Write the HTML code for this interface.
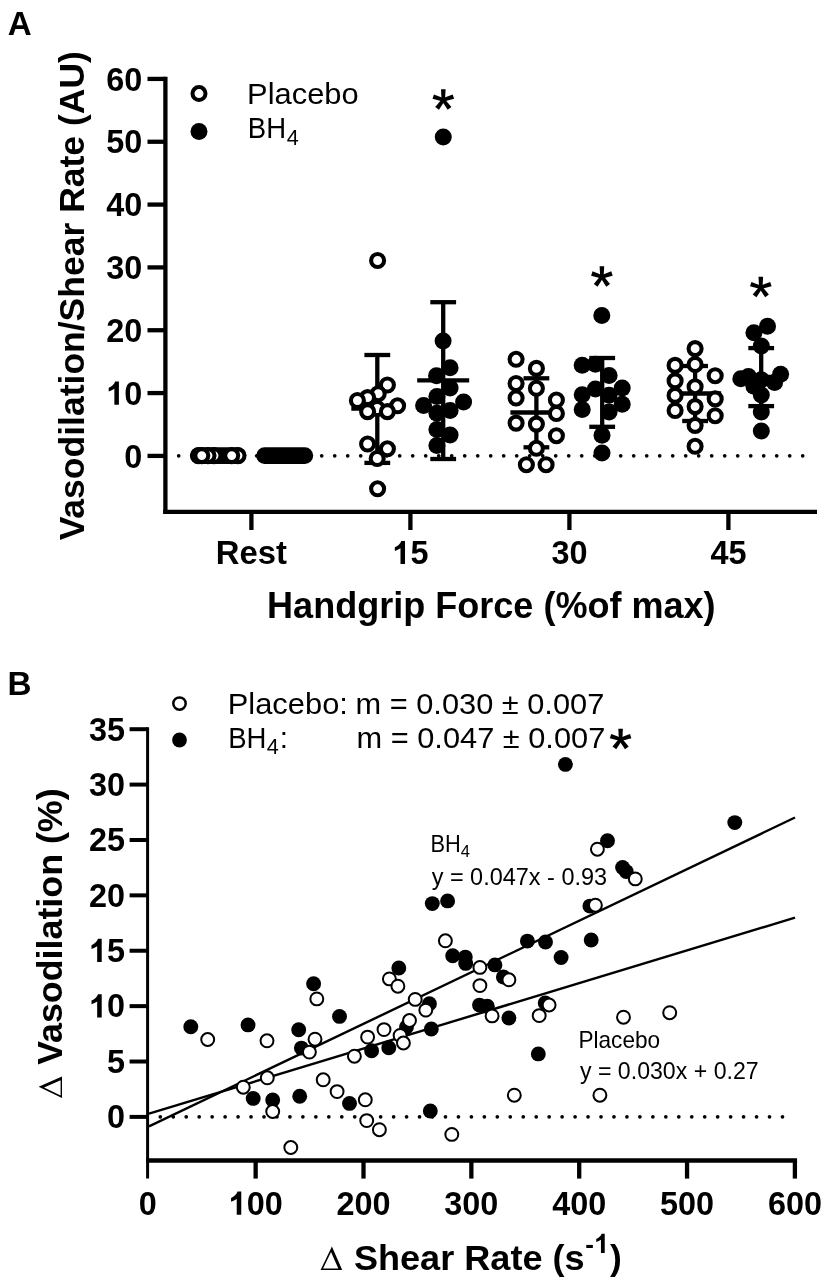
<!DOCTYPE html>
<html><head><meta charset="utf-8"><style>
html,body{margin:0;padding:0;background:#fff;}
svg{display:block;filter:grayscale(1);}
</style></head><body>
<svg width="827" height="1284" viewBox="0 0 827 1284">
<rect width="827" height="1284" fill="#fff"/>
<text transform="matrix(0.98,0,0,1,7.699,35)" font-family="Liberation Sans" font-weight="bold" font-size="33.8">A</text>
<line x1="165.4" y1="76.77" x2="165.4" y2="513.95" stroke="#000" stroke-width="4.3"/>
<line x1="163.25" y1="511.8" x2="817" y2="511.8" stroke="#000" stroke-width="4.3"/>
<line x1="147.5" y1="455.9" x2="165.4" y2="455.9" stroke="#000" stroke-width="4.3"/>
<text transform="matrix(1,0,0,1,124.282,467.5)" font-family="Liberation Sans" font-weight="bold" font-size="32.4">0</text>
<line x1="147.5" y1="393.07" x2="165.4" y2="393.07" stroke="#000" stroke-width="4.3"/>
<path d="M114.37,404.67 L118.90,404.67 L118.90,381.47 L115.21,381.47 C114.21,384.26 111.78,386.36 108.70,387.82 L108.70,391.55 C110.80,390.90 112.75,389.93 114.37,388.79 Z" fill="#000"/>
<text transform="matrix(1,0,0,1,124.282,404.67)" font-family="Liberation Sans" font-weight="bold" font-size="32.4">0</text>
<line x1="147.5" y1="330.24" x2="165.4" y2="330.24" stroke="#000" stroke-width="4.3"/>
<text transform="matrix(1,0,0,1,106.267,341.84)" font-family="Liberation Sans" font-weight="bold" font-size="32.4">2</text>
<text transform="matrix(1,0,0,1,124.282,341.84)" font-family="Liberation Sans" font-weight="bold" font-size="32.4">0</text>
<line x1="147.5" y1="267.41" x2="165.4" y2="267.41" stroke="#000" stroke-width="4.3"/>
<text transform="matrix(1,0,0,1,106.267,279.01)" font-family="Liberation Sans" font-weight="bold" font-size="32.4">3</text>
<text transform="matrix(1,0,0,1,124.282,279.01)" font-family="Liberation Sans" font-weight="bold" font-size="32.4">0</text>
<line x1="147.5" y1="204.58" x2="165.4" y2="204.58" stroke="#000" stroke-width="4.3"/>
<text transform="matrix(1,0,0,1,106.267,216.18)" font-family="Liberation Sans" font-weight="bold" font-size="32.4">4</text>
<text transform="matrix(1,0,0,1,124.282,216.18)" font-family="Liberation Sans" font-weight="bold" font-size="32.4">0</text>
<line x1="147.5" y1="141.75" x2="165.4" y2="141.75" stroke="#000" stroke-width="4.3"/>
<text transform="matrix(1,0,0,1,106.267,153.35)" font-family="Liberation Sans" font-weight="bold" font-size="32.4">5</text>
<text transform="matrix(1,0,0,1,124.282,153.35)" font-family="Liberation Sans" font-weight="bold" font-size="32.4">0</text>
<line x1="147.5" y1="78.92" x2="165.4" y2="78.92" stroke="#000" stroke-width="4.3"/>
<text transform="matrix(1,0,0,1,106.267,90.52)" font-family="Liberation Sans" font-weight="bold" font-size="32.4">6</text>
<text transform="matrix(1,0,0,1,124.282,90.52)" font-family="Liberation Sans" font-weight="bold" font-size="32.4">0</text>
<line x1="251.4" y1="511.8" x2="251.4" y2="530" stroke="#000" stroke-width="4.3"/>
<text transform="matrix(1,0,0,1,251.4,564.1)" font-family="Liberation Sans" font-weight="bold" font-size="32.8" text-anchor="middle">Rest</text>
<line x1="410.4" y1="511.8" x2="410.4" y2="530" stroke="#000" stroke-width="4.3"/>
<path d="M400.49,564.10 L405.02,564.10 L405.02,540.90 L401.33,540.90 C400.32,543.69 397.89,545.79 394.82,547.25 L394.82,550.98 C396.92,550.33 398.87,549.36 400.49,548.22 Z" fill="#000"/>
<text transform="matrix(1,0,0,1,410.4,564.1)" font-family="Liberation Sans" font-weight="bold" font-size="32.4">5</text>
<line x1="569.4" y1="511.8" x2="569.4" y2="530" stroke="#000" stroke-width="4.3"/>
<text transform="matrix(1,0,0,1,551.386,564.1)" font-family="Liberation Sans" font-weight="bold" font-size="32.4">3</text>
<text transform="matrix(1,0,0,1,569.4,564.1)" font-family="Liberation Sans" font-weight="bold" font-size="32.4">0</text>
<line x1="728.4" y1="511.8" x2="728.4" y2="530" stroke="#000" stroke-width="4.3"/>
<text transform="matrix(1,0,0,1,710.386,564.1)" font-family="Liberation Sans" font-weight="bold" font-size="32.4">4</text>
<text transform="matrix(1,0,0,1,728.4,564.1)" font-family="Liberation Sans" font-weight="bold" font-size="32.4">5</text>
<text transform="matrix(0.996,0,0,1,267.075,617.7)" font-family="Liberation Sans" font-weight="bold" font-size="36.2">Handgrip Force (%of max)</text>
<text transform="matrix(0,-1,1,0,84,540.351)" font-family="Liberation Sans" font-weight="bold" font-size="35.5">Vasodilation/Shear Rate (AU)</text>
<g fill="#000"><circle cx="178.70" cy="455.8" r="1.85"/><circle cx="191.70" cy="455.8" r="1.85"/><circle cx="204.70" cy="455.8" r="1.85"/><circle cx="217.70" cy="455.8" r="1.85"/><circle cx="230.70" cy="455.8" r="1.85"/><circle cx="243.70" cy="455.8" r="1.85"/><circle cx="256.70" cy="455.8" r="1.85"/><circle cx="269.70" cy="455.8" r="1.85"/><circle cx="282.70" cy="455.8" r="1.85"/><circle cx="295.70" cy="455.8" r="1.85"/><circle cx="308.70" cy="455.8" r="1.85"/><circle cx="321.70" cy="455.8" r="1.85"/><circle cx="334.70" cy="455.8" r="1.85"/><circle cx="347.70" cy="455.8" r="1.85"/><circle cx="360.70" cy="455.8" r="1.85"/><circle cx="373.70" cy="455.8" r="1.85"/><circle cx="386.70" cy="455.8" r="1.85"/><circle cx="399.70" cy="455.8" r="1.85"/><circle cx="412.70" cy="455.8" r="1.85"/><circle cx="425.70" cy="455.8" r="1.85"/><circle cx="438.70" cy="455.8" r="1.85"/><circle cx="451.70" cy="455.8" r="1.85"/><circle cx="464.70" cy="455.8" r="1.85"/><circle cx="477.70" cy="455.8" r="1.85"/><circle cx="490.70" cy="455.8" r="1.85"/><circle cx="503.70" cy="455.8" r="1.85"/><circle cx="516.70" cy="455.8" r="1.85"/><circle cx="529.70" cy="455.8" r="1.85"/><circle cx="542.70" cy="455.8" r="1.85"/><circle cx="555.70" cy="455.8" r="1.85"/><circle cx="568.70" cy="455.8" r="1.85"/><circle cx="581.70" cy="455.8" r="1.85"/><circle cx="594.70" cy="455.8" r="1.85"/><circle cx="607.70" cy="455.8" r="1.85"/><circle cx="620.70" cy="455.8" r="1.85"/><circle cx="633.70" cy="455.8" r="1.85"/><circle cx="646.70" cy="455.8" r="1.85"/><circle cx="659.70" cy="455.8" r="1.85"/><circle cx="672.70" cy="455.8" r="1.85"/><circle cx="685.70" cy="455.8" r="1.85"/><circle cx="698.70" cy="455.8" r="1.85"/><circle cx="711.70" cy="455.8" r="1.85"/><circle cx="724.70" cy="455.8" r="1.85"/><circle cx="737.70" cy="455.8" r="1.85"/><circle cx="750.70" cy="455.8" r="1.85"/><circle cx="763.70" cy="455.8" r="1.85"/><circle cx="776.70" cy="455.8" r="1.85"/><circle cx="789.70" cy="455.8" r="1.85"/><circle cx="802.70" cy="455.8" r="1.85"/></g>
<circle cx="199" cy="93.6" r="6.5" fill="#fff" stroke="#000" stroke-width="4.0"/>
<circle cx="199" cy="131.4" r="8.5" fill="#000"/>
<text transform="matrix(1.058,0,0,1,247.082,103.7)" font-family="Liberation Sans" font-weight="normal" font-size="29.2">Placebo</text>
<text transform="matrix(0.93,0,0,1,247.867,137.8)" font-family="Liberation Sans" font-weight="normal" font-size="29.6">BH</text>
<text transform="matrix(0.96,0,0,1,286.698,144.9)" font-family="Liberation Sans" font-weight="normal" font-size="22.5">4</text>
<g fill="#000"><polygon points="445.00,99.90 445.60,89.30 441.00,89.30 441.60,99.90"/><polygon points="443.83,101.52 454.09,98.81 452.67,94.44 442.77,98.28"/><polygon points="441.92,100.90 447.67,109.83 451.39,107.12 444.68,98.90"/><polygon points="441.92,98.90 435.21,107.12 438.93,109.83 444.68,100.90"/><polygon points="443.83,98.28 433.93,94.44 432.51,98.81 442.77,101.52"/><circle cx="443.3" cy="99.9" r="2.0"/></g>
<g fill="#000"><polygon points="603.60,276.80 604.20,266.20 599.60,266.20 600.20,276.80"/><polygon points="602.43,278.42 612.69,275.71 611.27,271.34 601.37,275.18"/><polygon points="600.52,277.80 606.27,286.73 609.99,284.02 603.28,275.80"/><polygon points="600.52,275.80 593.81,284.02 597.53,286.73 603.28,277.80"/><polygon points="602.43,275.18 592.53,271.34 591.11,275.71 601.37,278.42"/><circle cx="601.9" cy="276.8" r="2.0"/></g>
<g fill="#000"><polygon points="762.50,287.40 763.10,276.80 758.50,276.80 759.10,287.40"/><polygon points="761.33,289.02 771.59,286.31 770.17,281.94 760.27,285.78"/><polygon points="759.42,288.40 765.17,297.33 768.89,294.62 762.18,286.40"/><polygon points="759.42,286.40 752.71,294.62 756.43,297.33 762.18,288.40"/><polygon points="761.33,285.78 751.43,281.94 750.01,286.31 760.27,289.02"/><circle cx="760.8" cy="287.4" r="2.0"/></g>
<line x1="218.5" y1="455.6" x2="218.5" y2="455.6" stroke="#000" stroke-width="4.3"/>
<line x1="205.6" y1="455.6" x2="231.4" y2="455.6" stroke="#000" stroke-width="4.3"/>
<line x1="205.6" y1="455.6" x2="231.4" y2="455.6" stroke="#000" stroke-width="4.3"/>
<line x1="192.5" y1="455.6" x2="244.5" y2="455.6" stroke="#000" stroke-width="4.3"/>
<line x1="284.4" y1="455.6" x2="284.4" y2="455.6" stroke="#000" stroke-width="4.3"/>
<line x1="271.5" y1="455.6" x2="297.3" y2="455.6" stroke="#000" stroke-width="4.3"/>
<line x1="271.5" y1="455.6" x2="297.3" y2="455.6" stroke="#000" stroke-width="4.3"/>
<line x1="258.4" y1="455.6" x2="310.4" y2="455.6" stroke="#000" stroke-width="4.3"/>
<rect x="190.2" y="447.2" width="56" height="16.8" rx="8.4" fill="#000"/>
<circle cx="238" cy="455.6" r="6.5" fill="#fff" stroke="#000" stroke-width="4.1"/>
<circle cx="231.7" cy="455.6" r="6.5" fill="#fff" stroke="#000" stroke-width="4.1"/>
<circle cx="214" cy="455.6" r="6.5" fill="#fff" stroke="#000" stroke-width="4.1"/>
<circle cx="208" cy="455.6" r="6.5" fill="#fff" stroke="#000" stroke-width="4.1"/>
<circle cx="198.5" cy="455.6" r="6.5" fill="#fff" stroke="#000" stroke-width="4.1"/>
<circle cx="201.8" cy="455.6" r="6.5" fill="#fff" stroke="#000" stroke-width="4.1"/>
<rect x="256.2" y="447.2" width="57" height="16.8" rx="8.4" fill="#000"/>
<line x1="377.3" y1="355" x2="377.3" y2="462.9" stroke="#000" stroke-width="4.3"/>
<line x1="364.4" y1="355" x2="390.2" y2="355" stroke="#000" stroke-width="4.3"/>
<line x1="364.4" y1="462.9" x2="390.2" y2="462.9" stroke="#000" stroke-width="4.3"/>
<line x1="351.3" y1="408.6" x2="403.3" y2="408.6" stroke="#000" stroke-width="4.3"/>
<circle cx="377.6" cy="260.5" r="6.5" fill="#fff" stroke="#000" stroke-width="4.1"/>
<circle cx="377.2" cy="408.5" r="6.5" fill="#fff" stroke="#000" stroke-width="4.1"/>
<circle cx="387.4" cy="385" r="6.5" fill="#fff" stroke="#000" stroke-width="4.1"/>
<circle cx="378.2" cy="393.7" r="6.5" fill="#fff" stroke="#000" stroke-width="4.1"/>
<circle cx="367.6" cy="397.6" r="6.5" fill="#fff" stroke="#000" stroke-width="4.1"/>
<circle cx="357.4" cy="400.5" r="6.5" fill="#fff" stroke="#000" stroke-width="4.1"/>
<circle cx="397.6" cy="405.8" r="6.5" fill="#fff" stroke="#000" stroke-width="4.1"/>
<circle cx="367.6" cy="411.6" r="6.5" fill="#fff" stroke="#000" stroke-width="4.1"/>
<circle cx="387.4" cy="411.6" r="6.5" fill="#fff" stroke="#000" stroke-width="4.1"/>
<circle cx="367.6" cy="444" r="6.5" fill="#fff" stroke="#000" stroke-width="4.1"/>
<circle cx="387.4" cy="448.8" r="6.5" fill="#fff" stroke="#000" stroke-width="4.1"/>
<circle cx="377.2" cy="458.5" r="6.5" fill="#fff" stroke="#000" stroke-width="4.1"/>
<circle cx="377.6" cy="488.8" r="6.5" fill="#fff" stroke="#000" stroke-width="4.1"/>
<line x1="443.2" y1="302.2" x2="443.2" y2="459" stroke="#000" stroke-width="4.3"/>
<line x1="430.3" y1="302.2" x2="456.1" y2="302.2" stroke="#000" stroke-width="4.3"/>
<line x1="430.3" y1="459" x2="456.1" y2="459" stroke="#000" stroke-width="4.3"/>
<line x1="417.2" y1="380.3" x2="469.2" y2="380.3" stroke="#000" stroke-width="4.3"/>
<circle cx="443.25" cy="136.9" r="8.5" fill="#000"/>
<circle cx="443.1" cy="341.1" r="8.5" fill="#000"/>
<circle cx="450.1" cy="367.7" r="8.5" fill="#000"/>
<circle cx="436.5" cy="375.7" r="8.5" fill="#000"/>
<circle cx="450.1" cy="388" r="8.5" fill="#000"/>
<circle cx="436.9" cy="396.5" r="8.5" fill="#000"/>
<circle cx="423.6" cy="405.6" r="8.5" fill="#000"/>
<circle cx="463.6" cy="402.1" r="8.5" fill="#000"/>
<circle cx="450.1" cy="410.5" r="8.5" fill="#000"/>
<circle cx="436.9" cy="413.3" r="8.5" fill="#000"/>
<circle cx="436.9" cy="429.4" r="8.5" fill="#000"/>
<circle cx="450.1" cy="435" r="8.5" fill="#000"/>
<circle cx="436.9" cy="445.5" r="8.5" fill="#000"/>
<line x1="536.4" y1="378.3" x2="536.4" y2="447.3" stroke="#000" stroke-width="4.3"/>
<line x1="523.5" y1="378.3" x2="549.3" y2="378.3" stroke="#000" stroke-width="4.3"/>
<line x1="523.5" y1="447.3" x2="549.3" y2="447.3" stroke="#000" stroke-width="4.3"/>
<line x1="510.4" y1="412.5" x2="562.4" y2="412.5" stroke="#000" stroke-width="4.3"/>
<circle cx="516.1" cy="359.3" r="6.5" fill="#fff" stroke="#000" stroke-width="4.1"/>
<circle cx="536.4" cy="368.4" r="6.5" fill="#fff" stroke="#000" stroke-width="4.1"/>
<circle cx="516.1" cy="383.5" r="6.5" fill="#fff" stroke="#000" stroke-width="4.1"/>
<circle cx="536.4" cy="388.3" r="6.5" fill="#fff" stroke="#000" stroke-width="4.1"/>
<circle cx="516.1" cy="398" r="6.5" fill="#fff" stroke="#000" stroke-width="4.1"/>
<circle cx="556.4" cy="400" r="6.5" fill="#fff" stroke="#000" stroke-width="4.1"/>
<circle cx="556.4" cy="413.5" r="6.5" fill="#fff" stroke="#000" stroke-width="4.1"/>
<circle cx="516.1" cy="423.1" r="6.5" fill="#fff" stroke="#000" stroke-width="4.1"/>
<circle cx="536.4" cy="424.1" r="6.5" fill="#fff" stroke="#000" stroke-width="4.1"/>
<circle cx="556.4" cy="435.7" r="6.5" fill="#fff" stroke="#000" stroke-width="4.1"/>
<circle cx="536.4" cy="448.3" r="6.5" fill="#fff" stroke="#000" stroke-width="4.1"/>
<circle cx="526.4" cy="464.7" r="6.5" fill="#fff" stroke="#000" stroke-width="4.1"/>
<circle cx="546.1" cy="464.7" r="6.5" fill="#fff" stroke="#000" stroke-width="4.1"/>
<line x1="602.2" y1="358" x2="602.2" y2="426.8" stroke="#000" stroke-width="4.3"/>
<line x1="589.3" y1="358" x2="615.1" y2="358" stroke="#000" stroke-width="4.3"/>
<line x1="589.3" y1="426.8" x2="615.1" y2="426.8" stroke="#000" stroke-width="4.3"/>
<line x1="576.2" y1="392.4" x2="628.2" y2="392.4" stroke="#000" stroke-width="4.3"/>
<circle cx="601.8" cy="315.4" r="8.5" fill="#000"/>
<circle cx="582.2" cy="365.3" r="8.5" fill="#000"/>
<circle cx="595.4" cy="364.3" r="8.5" fill="#000"/>
<circle cx="609.1" cy="375.4" r="8.5" fill="#000"/>
<circle cx="595.4" cy="389.1" r="8.5" fill="#000"/>
<circle cx="582.2" cy="394.7" r="8.5" fill="#000"/>
<circle cx="609.1" cy="395.2" r="8.5" fill="#000"/>
<circle cx="622.2" cy="388.1" r="8.5" fill="#000"/>
<circle cx="582.2" cy="409.4" r="8.5" fill="#000"/>
<circle cx="622.2" cy="404.3" r="8.5" fill="#000"/>
<circle cx="609.1" cy="411.9" r="8.5" fill="#000"/>
<circle cx="602" cy="435.2" r="8.5" fill="#000"/>
<circle cx="602" cy="452.9" r="8.5" fill="#000"/>
<line x1="695.1" y1="366" x2="695.1" y2="421" stroke="#000" stroke-width="4.3"/>
<line x1="682.2" y1="366" x2="708" y2="366" stroke="#000" stroke-width="4.3"/>
<line x1="682.2" y1="421" x2="708" y2="421" stroke="#000" stroke-width="4.3"/>
<line x1="669.1" y1="393.5" x2="721.1" y2="393.5" stroke="#000" stroke-width="4.3"/>
<circle cx="695.1" cy="348.6" r="6.5" fill="#fff" stroke="#000" stroke-width="4.1"/>
<circle cx="675.1" cy="365.4" r="6.5" fill="#fff" stroke="#000" stroke-width="4.1"/>
<circle cx="695.1" cy="364.5" r="6.5" fill="#fff" stroke="#000" stroke-width="4.1"/>
<circle cx="715.2" cy="375.7" r="6.5" fill="#fff" stroke="#000" stroke-width="4.1"/>
<circle cx="675.1" cy="380.9" r="6.5" fill="#fff" stroke="#000" stroke-width="4.1"/>
<circle cx="695.1" cy="386.7" r="6.5" fill="#fff" stroke="#000" stroke-width="4.1"/>
<circle cx="675.1" cy="395.4" r="6.5" fill="#fff" stroke="#000" stroke-width="4.1"/>
<circle cx="715.2" cy="398.9" r="6.5" fill="#fff" stroke="#000" stroke-width="4.1"/>
<circle cx="695.1" cy="406.6" r="6.5" fill="#fff" stroke="#000" stroke-width="4.1"/>
<circle cx="675.1" cy="410.5" r="6.5" fill="#fff" stroke="#000" stroke-width="4.1"/>
<circle cx="715.2" cy="415.7" r="6.5" fill="#fff" stroke="#000" stroke-width="4.1"/>
<circle cx="695.1" cy="425.4" r="6.5" fill="#fff" stroke="#000" stroke-width="4.1"/>
<circle cx="695.1" cy="446.3" r="6.5" fill="#fff" stroke="#000" stroke-width="4.1"/>
<line x1="761.2" y1="348.1" x2="761.2" y2="406.1" stroke="#000" stroke-width="4.3"/>
<line x1="748.3" y1="348.1" x2="774.1" y2="348.1" stroke="#000" stroke-width="4.3"/>
<line x1="748.3" y1="406.1" x2="774.1" y2="406.1" stroke="#000" stroke-width="4.3"/>
<line x1="735.2" y1="377" x2="787.2" y2="377" stroke="#000" stroke-width="4.3"/>
<circle cx="767.5" cy="326.3" r="8.5" fill="#000"/>
<circle cx="753.9" cy="332.7" r="8.5" fill="#000"/>
<circle cx="761.3" cy="346" r="8.5" fill="#000"/>
<circle cx="740.8" cy="378.7" r="8.5" fill="#000"/>
<circle cx="748.4" cy="376.5" r="8.5" fill="#000"/>
<circle cx="761.3" cy="379.8" r="8.5" fill="#000"/>
<circle cx="780.6" cy="374.3" r="8.5" fill="#000"/>
<circle cx="774.6" cy="382.5" r="8.5" fill="#000"/>
<circle cx="753.9" cy="386.3" r="8.5" fill="#000"/>
<circle cx="761.3" cy="395" r="8.5" fill="#000"/>
<circle cx="761.3" cy="411.9" r="8.5" fill="#000"/>
<circle cx="761.3" cy="431" r="8.5" fill="#000"/>
<text transform="matrix(1.03,0,0,1,7.554,694.7)" font-family="Liberation Sans" font-weight="bold" font-size="32.3">B</text>
<line x1="147.6" y1="727.205" x2="147.6" y2="1178.6" stroke="#000" stroke-width="3.0"/>
<line x1="146.1" y1="1160.5" x2="797.05" y2="1160.5" stroke="#000" stroke-width="4.3"/>
<line x1="129.6" y1="1116.9" x2="147.6" y2="1116.9" stroke="#000" stroke-width="4.0"/>
<text transform="matrix(1,0,0,1,107.082,1128.2)" font-family="Liberation Sans" font-weight="bold" font-size="32.4">0</text>
<line x1="129.6" y1="1061.515" x2="147.6" y2="1061.515" stroke="#000" stroke-width="4.0"/>
<text transform="matrix(1,0,0,1,107.082,1072.815)" font-family="Liberation Sans" font-weight="bold" font-size="32.4">5</text>
<line x1="129.6" y1="1006.13" x2="147.6" y2="1006.13" stroke="#000" stroke-width="4.0"/>
<path d="M97.17,1017.43 L101.70,1017.43 L101.70,994.23 L98.01,994.23 C97.01,997.02 94.58,999.12 91.50,1000.58 L91.50,1004.31 C93.60,1003.66 95.55,1002.69 97.17,1001.55 Z" fill="#000"/>
<text transform="matrix(1,0,0,1,107.082,1017.43)" font-family="Liberation Sans" font-weight="bold" font-size="32.4">0</text>
<line x1="129.6" y1="950.745" x2="147.6" y2="950.745" stroke="#000" stroke-width="4.0"/>
<path d="M97.17,962.05 L101.70,962.05 L101.70,938.85 L98.01,938.85 C97.01,941.63 94.58,943.74 91.50,945.20 L91.50,948.92 C93.60,948.28 95.55,947.30 97.17,946.17 Z" fill="#000"/>
<text transform="matrix(1,0,0,1,107.082,962.045)" font-family="Liberation Sans" font-weight="bold" font-size="32.4">5</text>
<line x1="129.6" y1="895.36" x2="147.6" y2="895.36" stroke="#000" stroke-width="4.0"/>
<text transform="matrix(1,0,0,1,89.067,906.66)" font-family="Liberation Sans" font-weight="bold" font-size="32.4">2</text>
<text transform="matrix(1,0,0,1,107.082,906.66)" font-family="Liberation Sans" font-weight="bold" font-size="32.4">0</text>
<line x1="129.6" y1="839.975" x2="147.6" y2="839.975" stroke="#000" stroke-width="4.0"/>
<text transform="matrix(1,0,0,1,89.067,851.275)" font-family="Liberation Sans" font-weight="bold" font-size="32.4">2</text>
<text transform="matrix(1,0,0,1,107.082,851.275)" font-family="Liberation Sans" font-weight="bold" font-size="32.4">5</text>
<line x1="129.6" y1="784.59" x2="147.6" y2="784.59" stroke="#000" stroke-width="4.0"/>
<text transform="matrix(1,0,0,1,89.067,795.89)" font-family="Liberation Sans" font-weight="bold" font-size="32.4">3</text>
<text transform="matrix(1,0,0,1,107.082,795.89)" font-family="Liberation Sans" font-weight="bold" font-size="32.4">0</text>
<line x1="129.6" y1="729.205" x2="147.6" y2="729.205" stroke="#000" stroke-width="4.0"/>
<text transform="matrix(1,0,0,1,89.067,740.505)" font-family="Liberation Sans" font-weight="bold" font-size="32.4">3</text>
<text transform="matrix(1,0,0,1,107.082,740.505)" font-family="Liberation Sans" font-weight="bold" font-size="32.4">5</text>
<text transform="matrix(1,0,0,1,138.793,1214.8)" font-family="Liberation Sans" font-weight="bold" font-size="32.4">0</text>
<line x1="255.65" y1="1160.5" x2="255.65" y2="1178.6" stroke="#000" stroke-width="4.3"/>
<path d="M236.73,1214.80 L241.26,1214.80 L241.26,1191.60 L237.57,1191.60 C236.57,1194.39 234.14,1196.49 231.06,1197.95 L231.06,1201.68 C233.16,1201.03 235.11,1200.06 236.73,1198.92 Z" fill="#000"/>
<text transform="matrix(1,0,0,1,246.643,1214.8)" font-family="Liberation Sans" font-weight="bold" font-size="32.4">0</text>
<text transform="matrix(1,0,0,1,264.657,1214.8)" font-family="Liberation Sans" font-weight="bold" font-size="32.4">0</text>
<line x1="363.5" y1="1160.5" x2="363.5" y2="1178.6" stroke="#000" stroke-width="4.3"/>
<text transform="matrix(1,0,0,1,336.478,1214.8)" font-family="Liberation Sans" font-weight="bold" font-size="32.4">2</text>
<text transform="matrix(1,0,0,1,354.493,1214.8)" font-family="Liberation Sans" font-weight="bold" font-size="32.4">0</text>
<text transform="matrix(1,0,0,1,372.507,1214.8)" font-family="Liberation Sans" font-weight="bold" font-size="32.4">0</text>
<line x1="471.35" y1="1160.5" x2="471.35" y2="1178.6" stroke="#000" stroke-width="4.3"/>
<text transform="matrix(1,0,0,1,444.328,1214.8)" font-family="Liberation Sans" font-weight="bold" font-size="32.4">3</text>
<text transform="matrix(1,0,0,1,462.343,1214.8)" font-family="Liberation Sans" font-weight="bold" font-size="32.4">0</text>
<text transform="matrix(1,0,0,1,480.357,1214.8)" font-family="Liberation Sans" font-weight="bold" font-size="32.4">0</text>
<line x1="579.2" y1="1160.5" x2="579.2" y2="1178.6" stroke="#000" stroke-width="4.3"/>
<text transform="matrix(1,0,0,1,552.178,1214.8)" font-family="Liberation Sans" font-weight="bold" font-size="32.4">4</text>
<text transform="matrix(1,0,0,1,570.193,1214.8)" font-family="Liberation Sans" font-weight="bold" font-size="32.4">0</text>
<text transform="matrix(1,0,0,1,588.207,1214.8)" font-family="Liberation Sans" font-weight="bold" font-size="32.4">0</text>
<line x1="687.05" y1="1160.5" x2="687.05" y2="1178.6" stroke="#000" stroke-width="4.3"/>
<text transform="matrix(1,0,0,1,660.028,1214.8)" font-family="Liberation Sans" font-weight="bold" font-size="32.4">5</text>
<text transform="matrix(1,0,0,1,678.043,1214.8)" font-family="Liberation Sans" font-weight="bold" font-size="32.4">0</text>
<text transform="matrix(1,0,0,1,696.057,1214.8)" font-family="Liberation Sans" font-weight="bold" font-size="32.4">0</text>
<line x1="794.9" y1="1160.5" x2="794.9" y2="1178.6" stroke="#000" stroke-width="4.3"/>
<text transform="matrix(1,0,0,1,767.878,1214.8)" font-family="Liberation Sans" font-weight="bold" font-size="32.4">6</text>
<text transform="matrix(1,0,0,1,785.893,1214.8)" font-family="Liberation Sans" font-weight="bold" font-size="32.4">0</text>
<text transform="matrix(1,0,0,1,803.907,1214.8)" font-family="Liberation Sans" font-weight="bold" font-size="32.4">0</text>
<path d="M331.90,1246.60 L320.60,1270.00 L342.20,1270.00 Z M331.03,1252.08 L323.05,1268.60 L338.31,1268.60 Z" fill="#000" fill-rule="evenodd"/>
<text transform="matrix(1.02,0,0,1,353.883,1269.9)" font-family="Liberation Sans" font-weight="bold" font-size="35.4">Shear Rate (s</text>
<text transform="matrix(1,0,0,1,585.25,1253.3)" font-family="Liberation Sans" font-weight="bold" font-size="26">-</text>
<path d="M600.95,1253.00 L604.73,1253.00 L604.73,1233.67 L601.65,1233.67 C600.82,1235.99 598.79,1237.74 596.23,1238.96 L596.23,1242.07 C597.98,1241.53 599.60,1240.71 600.95,1239.77 Z" fill="#000"/>
<text transform="matrix(1,0,0,1,610,1269.9)" font-family="Liberation Sans" font-weight="bold" font-size="35.4">)</text>
<text transform="matrix(0,-1,1,0,62,1064.852)" font-family="Liberation Sans" font-weight="bold" font-size="35.8">Vasodilation (%)</text>
<path d="M38.60,1086.70 L62.00,1098.00 L62.00,1076.40 Z M44.08,1087.57 L60.60,1095.55 L60.60,1080.29 Z" fill="#000" fill-rule="evenodd"/>
<g fill="#000"><circle cx="160.30" cy="1116.8" r="1.85"/><circle cx="173.26" cy="1116.8" r="1.85"/><circle cx="186.22" cy="1116.8" r="1.85"/><circle cx="199.19" cy="1116.8" r="1.85"/><circle cx="212.15" cy="1116.8" r="1.85"/><circle cx="225.11" cy="1116.8" r="1.85"/><circle cx="238.07" cy="1116.8" r="1.85"/><circle cx="251.03" cy="1116.8" r="1.85"/><circle cx="264.00" cy="1116.8" r="1.85"/><circle cx="276.96" cy="1116.8" r="1.85"/><circle cx="289.92" cy="1116.8" r="1.85"/><circle cx="302.88" cy="1116.8" r="1.85"/><circle cx="315.84" cy="1116.8" r="1.85"/><circle cx="328.81" cy="1116.8" r="1.85"/><circle cx="341.77" cy="1116.8" r="1.85"/><circle cx="354.73" cy="1116.8" r="1.85"/><circle cx="367.69" cy="1116.8" r="1.85"/><circle cx="380.65" cy="1116.8" r="1.85"/><circle cx="393.62" cy="1116.8" r="1.85"/><circle cx="406.58" cy="1116.8" r="1.85"/><circle cx="419.54" cy="1116.8" r="1.85"/><circle cx="432.50" cy="1116.8" r="1.85"/><circle cx="445.46" cy="1116.8" r="1.85"/><circle cx="458.43" cy="1116.8" r="1.85"/><circle cx="471.39" cy="1116.8" r="1.85"/><circle cx="484.35" cy="1116.8" r="1.85"/><circle cx="497.31" cy="1116.8" r="1.85"/><circle cx="510.27" cy="1116.8" r="1.85"/><circle cx="523.24" cy="1116.8" r="1.85"/><circle cx="536.20" cy="1116.8" r="1.85"/><circle cx="549.16" cy="1116.8" r="1.85"/><circle cx="562.12" cy="1116.8" r="1.85"/><circle cx="575.08" cy="1116.8" r="1.85"/><circle cx="588.05" cy="1116.8" r="1.85"/><circle cx="601.01" cy="1116.8" r="1.85"/><circle cx="613.97" cy="1116.8" r="1.85"/><circle cx="626.93" cy="1116.8" r="1.85"/><circle cx="639.89" cy="1116.8" r="1.85"/><circle cx="652.86" cy="1116.8" r="1.85"/><circle cx="665.82" cy="1116.8" r="1.85"/><circle cx="678.78" cy="1116.8" r="1.85"/><circle cx="691.74" cy="1116.8" r="1.85"/><circle cx="704.70" cy="1116.8" r="1.85"/><circle cx="717.67" cy="1116.8" r="1.85"/><circle cx="730.63" cy="1116.8" r="1.85"/><circle cx="743.59" cy="1116.8" r="1.85"/><circle cx="756.55" cy="1116.8" r="1.85"/><circle cx="769.51" cy="1116.8" r="1.85"/><circle cx="782.48" cy="1116.8" r="1.85"/></g>
<line x1="149" y1="1126.4" x2="795" y2="817.5" stroke="#000" stroke-width="2.4"/>
<line x1="149" y1="1113.6" x2="795" y2="917.7" stroke="#000" stroke-width="2.4"/>
<circle cx="179.5" cy="703.6" r="6.2" fill="#fff" stroke="#000" stroke-width="2.5"/>
<circle cx="179.5" cy="740" r="7.4" fill="#000"/>
<text transform="matrix(1.058,0,0,1,227.708,713.7)" font-family="Liberation Sans" font-weight="normal" font-size="29.2">Placebo:</text>
<text transform="matrix(1.04,0,0,1,355.534,713.7)" font-family="Liberation Sans" font-weight="normal" font-size="29.6">m = 0.030 ± 0.007</text>
<text transform="matrix(0.93,0,0,1,228.191,747.5)" font-family="Liberation Sans" font-weight="normal" font-size="29.6">BH</text>
<text transform="matrix(0.96,0,0,1,266.698,754.3)" font-family="Liberation Sans" font-weight="normal" font-size="22.5">4</text>
<text transform="matrix(1,0,0,1,279.868,747.5)" font-family="Liberation Sans" font-weight="normal" font-size="29.6">:</text>
<text transform="matrix(1.04,0,0,1,356.534,747.5)" font-family="Liberation Sans" font-weight="normal" font-size="29.6">m = 0.047 ± 0.007</text>
<g fill="#000"><polygon points="622.30,739.40 622.90,728.80 618.30,728.80 618.90,739.40"/><polygon points="621.13,741.02 631.39,738.31 629.97,733.94 620.07,737.78"/><polygon points="619.22,740.40 624.97,749.33 628.69,746.62 621.98,738.40"/><polygon points="619.22,738.40 612.51,746.62 616.23,749.33 621.98,740.40"/><polygon points="621.13,737.78 611.23,733.94 609.81,738.31 620.07,741.02"/><circle cx="620.6" cy="739.4" r="2.0"/></g>
<text transform="matrix(0.94,0,0,1,430.404,851.8)" font-family="Liberation Sans" font-weight="normal" font-size="23.2">BH</text>
<text transform="matrix(0.97,0,0,1,460.8,857)" font-family="Liberation Sans" font-weight="normal" font-size="17">4</text>
<text transform="matrix(1.012,0,0,1,431.645,885)" font-family="Liberation Sans" font-weight="normal" font-size="23.2">y = 0.047x - 0.93</text>
<text transform="matrix(0.975,0,0,1,578.433,1048.1)" font-family="Liberation Sans" font-weight="normal" font-size="23.2">Placebo</text>
<text transform="matrix(0.997,0,0,1,579.949,1078.6)" font-family="Liberation Sans" font-weight="normal" font-size="23.2">y = 0.030x + 0.27</text>
<circle cx="190.8" cy="1026.8" r="7.45" fill="#000"/>
<circle cx="248" cy="1024.9" r="7.45" fill="#000"/>
<circle cx="298.7" cy="1029.7" r="7.45" fill="#000"/>
<circle cx="301.4" cy="1048.1" r="7.45" fill="#000"/>
<circle cx="253.2" cy="1098.4" r="7.45" fill="#000"/>
<circle cx="272.7" cy="1099.9" r="7.45" fill="#000"/>
<circle cx="299.7" cy="1096.2" r="7.45" fill="#000"/>
<circle cx="339.5" cy="1016.4" r="7.45" fill="#000"/>
<circle cx="313.6" cy="983.8" r="7.45" fill="#000"/>
<circle cx="349.5" cy="1103.4" r="7.45" fill="#000"/>
<circle cx="371.6" cy="1050.8" r="7.45" fill="#000"/>
<circle cx="388.8" cy="1047.7" r="7.45" fill="#000"/>
<circle cx="406.5" cy="1027.1" r="7.45" fill="#000"/>
<circle cx="398.8" cy="968" r="7.45" fill="#000"/>
<circle cx="429.4" cy="1003.8" r="7.45" fill="#000"/>
<circle cx="431.3" cy="1029" r="7.45" fill="#000"/>
<circle cx="430.3" cy="1111" r="7.45" fill="#000"/>
<circle cx="432.3" cy="903.6" r="7.45" fill="#000"/>
<circle cx="447.6" cy="900.9" r="7.45" fill="#000"/>
<circle cx="452.7" cy="955.8" r="7.45" fill="#000"/>
<circle cx="465.3" cy="957.1" r="7.45" fill="#000"/>
<circle cx="465.7" cy="963.4" r="7.45" fill="#000"/>
<circle cx="494.9" cy="964.9" r="7.45" fill="#000"/>
<circle cx="503.4" cy="977" r="7.45" fill="#000"/>
<circle cx="479.5" cy="1005.1" r="7.45" fill="#000"/>
<circle cx="487.3" cy="1006.2" r="7.45" fill="#000"/>
<circle cx="508.9" cy="1018" r="7.45" fill="#000"/>
<circle cx="527.4" cy="941.1" r="7.45" fill="#000"/>
<circle cx="545.5" cy="942" r="7.45" fill="#000"/>
<circle cx="561.1" cy="957.5" r="7.45" fill="#000"/>
<circle cx="545.2" cy="1003" r="7.45" fill="#000"/>
<circle cx="538.3" cy="1053.9" r="7.45" fill="#000"/>
<circle cx="565.4" cy="764.4" r="7.45" fill="#000"/>
<circle cx="607.5" cy="840.8" r="7.45" fill="#000"/>
<circle cx="622.6" cy="867.5" r="7.45" fill="#000"/>
<circle cx="626.2" cy="871.6" r="7.45" fill="#000"/>
<circle cx="589.9" cy="906.1" r="7.45" fill="#000"/>
<circle cx="591.2" cy="940" r="7.45" fill="#000"/>
<circle cx="734.8" cy="822.6" r="7.45" fill="#000"/>
<circle cx="207.7" cy="1039.5" r="6.45" fill="#fff" stroke="#000" stroke-width="2.0"/>
<circle cx="267" cy="1040.8" r="6.45" fill="#fff" stroke="#000" stroke-width="2.0"/>
<circle cx="267.3" cy="1077.8" r="6.45" fill="#fff" stroke="#000" stroke-width="2.0"/>
<circle cx="243.3" cy="1087.2" r="6.45" fill="#fff" stroke="#000" stroke-width="2.0"/>
<circle cx="272.7" cy="1111.5" r="6.45" fill="#fff" stroke="#000" stroke-width="2.0"/>
<circle cx="290.8" cy="1147.5" r="6.45" fill="#fff" stroke="#000" stroke-width="2.0"/>
<circle cx="316.8" cy="998.9" r="6.45" fill="#fff" stroke="#000" stroke-width="2.0"/>
<circle cx="315" cy="1039.2" r="6.45" fill="#fff" stroke="#000" stroke-width="2.0"/>
<circle cx="309.4" cy="1052.1" r="6.45" fill="#fff" stroke="#000" stroke-width="2.0"/>
<circle cx="354.4" cy="1056.2" r="6.45" fill="#fff" stroke="#000" stroke-width="2.0"/>
<circle cx="367.6" cy="1037.1" r="6.45" fill="#fff" stroke="#000" stroke-width="2.0"/>
<circle cx="384" cy="1029.6" r="6.45" fill="#fff" stroke="#000" stroke-width="2.0"/>
<circle cx="400.1" cy="1035.4" r="6.45" fill="#fff" stroke="#000" stroke-width="2.0"/>
<circle cx="403.4" cy="1043" r="6.45" fill="#fff" stroke="#000" stroke-width="2.0"/>
<circle cx="409.5" cy="1020.5" r="6.45" fill="#fff" stroke="#000" stroke-width="2.0"/>
<circle cx="389.4" cy="978.9" r="6.45" fill="#fff" stroke="#000" stroke-width="2.0"/>
<circle cx="397.9" cy="986.2" r="6.45" fill="#fff" stroke="#000" stroke-width="2.0"/>
<circle cx="415.2" cy="999.4" r="6.45" fill="#fff" stroke="#000" stroke-width="2.0"/>
<circle cx="425.8" cy="1010.1" r="6.45" fill="#fff" stroke="#000" stroke-width="2.0"/>
<circle cx="323.2" cy="1079.8" r="6.45" fill="#fff" stroke="#000" stroke-width="2.0"/>
<circle cx="337.1" cy="1091.6" r="6.45" fill="#fff" stroke="#000" stroke-width="2.0"/>
<circle cx="365.3" cy="1099.8" r="6.45" fill="#fff" stroke="#000" stroke-width="2.0"/>
<circle cx="366.7" cy="1120.6" r="6.45" fill="#fff" stroke="#000" stroke-width="2.0"/>
<circle cx="379.4" cy="1129.7" r="6.45" fill="#fff" stroke="#000" stroke-width="2.0"/>
<circle cx="445.4" cy="940.8" r="6.45" fill="#fff" stroke="#000" stroke-width="2.0"/>
<circle cx="479.9" cy="967.4" r="6.45" fill="#fff" stroke="#000" stroke-width="2.0"/>
<circle cx="508.9" cy="979.8" r="6.45" fill="#fff" stroke="#000" stroke-width="2.0"/>
<circle cx="479.9" cy="985.6" r="6.45" fill="#fff" stroke="#000" stroke-width="2.0"/>
<circle cx="492.1" cy="1015.9" r="6.45" fill="#fff" stroke="#000" stroke-width="2.0"/>
<circle cx="549.1" cy="1005" r="6.45" fill="#fff" stroke="#000" stroke-width="2.0"/>
<circle cx="539.2" cy="1015.6" r="6.45" fill="#fff" stroke="#000" stroke-width="2.0"/>
<circle cx="514.3" cy="1095.2" r="6.45" fill="#fff" stroke="#000" stroke-width="2.0"/>
<circle cx="451.8" cy="1134.4" r="6.45" fill="#fff" stroke="#000" stroke-width="2.0"/>
<circle cx="597.4" cy="849.2" r="6.45" fill="#fff" stroke="#000" stroke-width="2.0"/>
<circle cx="635.3" cy="878.9" r="6.45" fill="#fff" stroke="#000" stroke-width="2.0"/>
<circle cx="595.4" cy="905.2" r="6.45" fill="#fff" stroke="#000" stroke-width="2.0"/>
<circle cx="623.5" cy="1017.2" r="6.45" fill="#fff" stroke="#000" stroke-width="2.0"/>
<circle cx="669.7" cy="1012.7" r="6.45" fill="#fff" stroke="#000" stroke-width="2.0"/>
<circle cx="599.9" cy="1095.2" r="6.45" fill="#fff" stroke="#000" stroke-width="2.0"/>
</svg></body></html>
